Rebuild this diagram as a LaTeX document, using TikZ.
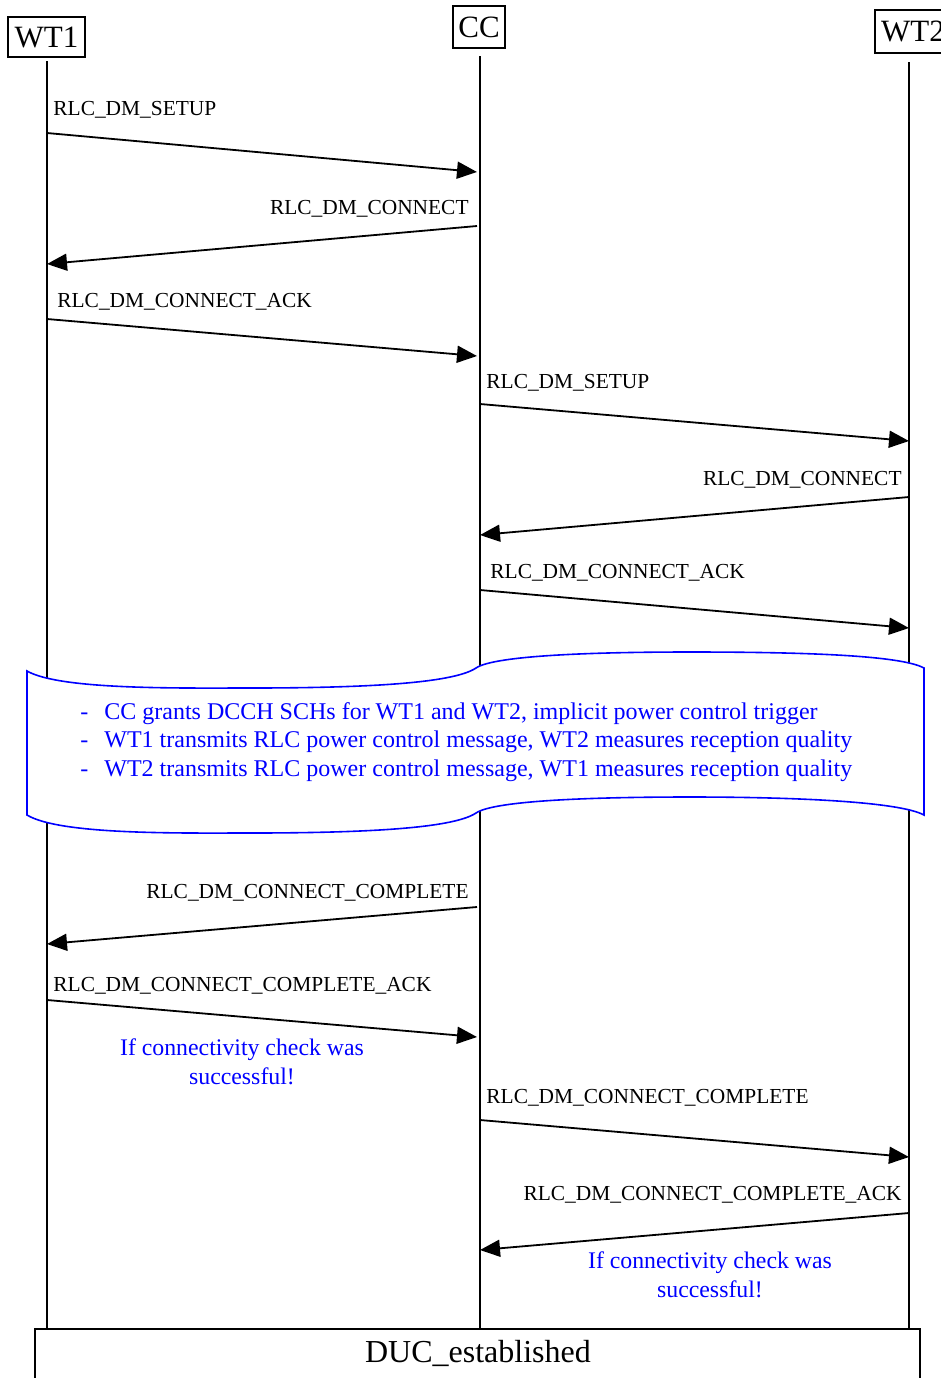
\documentclass[tikz,border=0pt]{standalone}
\usepackage{fontspec}
\setmainfont{Liberation Serif}
\usetikzlibrary{arrows.meta}
\definecolor{noteblue}{RGB}{0,0,255}
\begin{document}
\begin{tikzpicture}[x=0.5pt,y=-0.5pt,
  life/.style={line width=1pt},
  msg/.style={line width=0.9pt,-{Triangle[length=10pt,width=8.5pt]}},
  lbl/.style={font=\fontsize{10.7}{12}\selectfont,inner sep=0pt},
  head/.style={draw,line width=0.8pt,font=\fontsize{15.5}{18}\selectfont,inner sep=0pt},
  note/.style={text=noteblue,font=\fontsize{11.9}{14.5}\selectfont,inner sep=0pt,align=center},
  boxtxt/.style={text=noteblue,font=\fontsize{12}{14}\selectfont,inner sep=0pt,anchor=base west}
  ]
\useasboundingbox (0,0) rectangle (941,1378);
% headers
\node[head,minimum width=38.5pt,minimum height=20pt] (wt1) at (46.5,37) {WT1};
\node[head,minimum width=26pt,minimum height=21pt] (cc) at (479,27) {CC};
\node[head,minimum width=38pt,minimum height=21.5pt] (wt2) at (913,31.5) {WT2};
% bottom box
\draw[line width=0.8pt] (35,1400) -- (35,1329) -- (920,1329) -- (920,1400);
\node[font=\fontsize{16}{19}\selectfont,inner sep=0pt,anchor=base] (duc) at (478,1362) {DUC\_established};
% lifelines
\coordinate (l1b) at (47,1329);
\coordinate (lcb) at (480,1329);
\coordinate (l2b) at (909,1329);
\draw[life] (47,61) -- (l1b);
\draw[life] (480,56) -- (lcb);
\draw[life] (909,62) -- (l2b);
% message coordinates
\coordinate (m1s) at (47,133);   \coordinate (m1e) at (477,172);
\coordinate (m2s) at (477,226);  \coordinate (m2e) at (47,264);
\coordinate (m3s) at (47,319);   \coordinate (m3e) at (477,356);
\coordinate (m4s) at (480,404);  \coordinate (m4e) at (909,441);
\coordinate (m5s) at (909,497);  \coordinate (m5e) at (480,535);
\coordinate (m6s) at (480,590);  \coordinate (m6e) at (909,628);
\coordinate (m7s) at (477,907);  \coordinate (m7e) at (47,944);
\coordinate (m8s) at (47,1000);  \coordinate (m8e) at (477,1037);
\coordinate (m9s) at (480,1120); \coordinate (m9e) at (909,1157);
\coordinate (m10s) at (909,1213);\coordinate (m10e) at (480,1250);
\draw[msg] (m1s) -- (m1e);
\draw[msg] (m2s) -- (m2e);
\draw[msg] (m3s) -- (m3e);
\draw[msg] (m4s) -- (m4e);
\draw[msg] (m5s) -- (m5e);
\draw[msg] (m6s) -- (m6e);
\draw[msg] (m7s) -- (m7e);
\draw[msg] (m8s) -- (m8e);
\draw[msg] (m9s) -- (m9e);
\draw[msg] (m10s) -- (m10e);
% labels
\node[lbl,anchor=base west] (t1) at (53,115) {RLC\_DM\_SETUP};
\node[lbl,anchor=base east] (t2) at (469,214) {RLC\_DM\_CONNECT};
\node[lbl,anchor=base west] (t3) at (57,307) {RLC\_DM\_CONNECT\_ACK};
\node[lbl,anchor=base west] (t4) at (486,388) {RLC\_DM\_SETUP};
\node[lbl,anchor=base east] (t5) at (902,485) {RLC\_DM\_CONNECT};
\node[lbl,anchor=base west] (t6) at (490,578) {RLC\_DM\_CONNECT\_ACK};
\node[lbl,anchor=base east] (t7) at (469,898) {RLC\_DM\_CONNECT\_COMPLETE};
\node[lbl,anchor=base west] (t8) at (53,991) {RLC\_DM\_CONNECT\_COMPLETE\_ACK};
\node[lbl,anchor=base west] (t9) at (486,1103) {RLC\_DM\_CONNECT\_COMPLETE};
\node[lbl,anchor=base east] (t10) at (902,1200) {RLC\_DM\_CONNECT\_COMPLETE\_ACK};
% notes
\node[note,anchor=north] (n1) at (242,1038) {If connectivity check was\\successful!};
\node[note,anchor=north] (n2) at (710,1251) {If connectivity check was\\successful!};
% wavy box
\draw[noteblue,fill=white,line width=0.8pt]
  (27,671) .. controls (60,690) and (180,688) .. (250,688)
  .. controls (380,688) and (455,682) .. (476,668)
  .. controls (495,655) and (600,652) .. (690,652)
  .. controls (800,652) and (900,655) .. (924,668)
  -- (924,815)
  .. controls (900,802) and (800,797) .. (690,797)
  .. controls (600,797) and (495,800) .. (476,813)
  .. controls (455,827) and (380,833) .. (250,833)
  .. controls (180,833) and (60,835) .. (27,815) -- cycle;
\node[boxtxt] (d1) at (80,719) {-};
\node[boxtxt] (b1) at (104,719) {CC grants DCCH SCHs for WT1 and WT2, implicit power control trigger};
\node[boxtxt] (d2) at (80,747) {-};
\node[boxtxt] (b2) at (104,747) {WT1 transmits RLC power control message, WT2 measures reception quality};
\node[boxtxt] (d3) at (80,776) {-};
\node[boxtxt] (b3) at (104,776) {WT2 transmits RLC power control message, WT1 measures reception quality};
\end{tikzpicture}
\end{document}
